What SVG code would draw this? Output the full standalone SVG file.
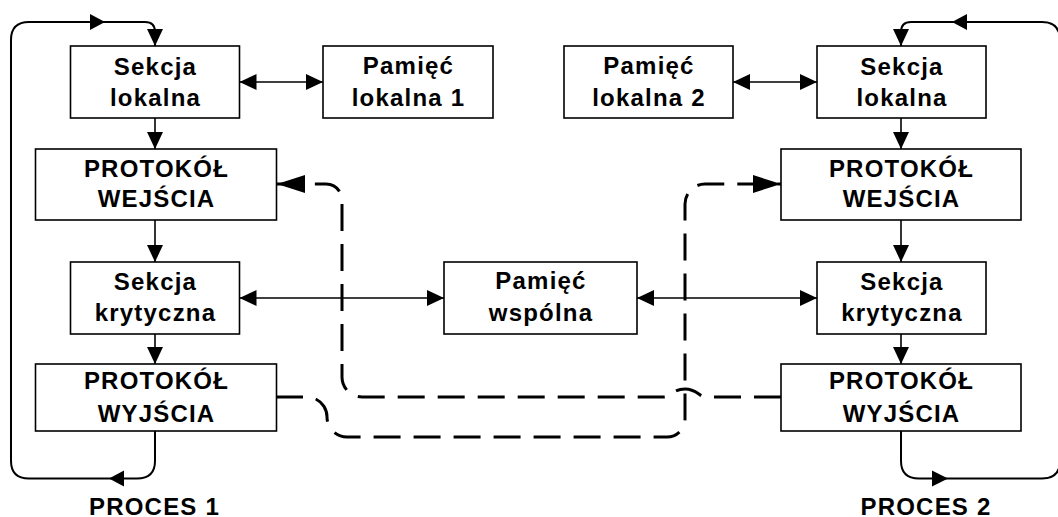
<svg xmlns="http://www.w3.org/2000/svg" width="1058" height="517" viewBox="0 0 1058 517">
<style>
.box{fill:#fff;stroke:#000;stroke-width:1.6}
.t{font-family:"Liberation Sans",Arial,sans-serif;font-weight:bold;font-size:24px;letter-spacing:1.2px;text-anchor:middle;fill:#000}
.c{fill:none;stroke:#000;stroke-width:1.6}
.loop{fill:none;stroke:#000;stroke-width:2}
.d{fill:none;stroke:#000;stroke-width:3;stroke-dasharray:27 13}
.ah{fill:#000;stroke:none}
</style>
<defs>
<marker id="a" viewBox="0 0 17 16" refX="17" refY="8" markerWidth="17" markerHeight="16" markerUnits="userSpaceOnUse" orient="auto-start-reverse">
<path d="M0,0 L17,8 L0,16 z" fill="#000"/>
</marker>
<marker id="ad" viewBox="0 0 28 18" refX="28" refY="9" markerWidth="28" markerHeight="18" markerUnits="userSpaceOnUse" orient="auto">
<path d="M0,0 L28,9 L0,18 z" fill="#000"/>
</marker>
</defs>
<rect width="1058" height="517" fill="#fff"/>
<g id="connectors">
<path class="c" d="M155,118 V149" marker-end="url(#a)"/>
<path class="c" d="M155,220 V262" marker-end="url(#a)"/>
<path class="c" d="M155,334 V364" marker-end="url(#a)"/>
<path class="c" d="M901,118 V149" marker-end="url(#a)"/>
<path class="c" d="M901,220 V262" marker-end="url(#a)"/>
<path class="c" d="M901,334 V364" marker-end="url(#a)"/>
<path class="c" d="M239.5,82 H323" marker-start="url(#a)" marker-end="url(#a)"/>
<path class="c" d="M733,82 H817" marker-start="url(#a)" marker-end="url(#a)"/>
<path class="c" d="M239.5,298 H444" marker-start="url(#a)" marker-end="url(#a)"/>
<path class="c" d="M637,298 H817" marker-start="url(#a)" marker-end="url(#a)"/>
<path class="loop" d="M155,431 V461 Q155,478.5 137,478.5 H29 Q11,478.5 11,461 V40 Q11,22 29,22 H145 Q155,22 155,32 V46" marker-end="url(#a)"/>
<polygon class="ah" points="105,22 90,14 90,30"/>
<polygon class="ah" points="109,478.5 124,470.5 124,486.5"/>
<path class="loop" d="M901,431 V461 Q901,478.5 919,478.5 H1042 Q1060,478.5 1060,461 V40 Q1060,22 1042,22 H911 Q901,22 901,32 V46" marker-end="url(#a)"/>
<polygon class="ah" points="948,478.5 932,470.5 932,486.5"/>
<polygon class="ah" points="952,22 967,14 967,30"/>
<path class="d" d="M276,397 H307 A20,20 0 0 1 327,417 A20,20 0 0 0 347,437 H667 A18,18 0 0 0 685,419 V204 A20,20 0 0 1 705,184 H781" marker-end="url(#ad)"/>
<path class="d" d="M781,397 H706 C699,397 697,389 685,389 C673,389 671,397 664,397 H362 A20,20 0 0 1 342,377 V200 A16,16 0 0 0 326,184 H277" marker-end="url(#ad)"/>
</g>
<g id="sekcja-lokalna-1"><rect class="box" x="70.5" y="46" width="169" height="72"/><text class="t" x="155.5" y="74.5">Sekcja</text><text class="t" x="155.5" y="106">lokalna</text></g>
<g id="pamiec-lokalna-1"><rect class="box" x="323" y="46" width="170" height="72"/><text class="t" x="408.5" y="74">Pamięć</text><text class="t" x="408.5" y="106">lokalna 1</text></g>
<g id="pamiec-lokalna-2"><rect class="box" x="564" y="46" width="169" height="72"/><text class="t" x="649" y="74">Pamięć</text><text class="t" x="649" y="106">lokalna 2</text></g>
<g id="sekcja-lokalna-2"><rect class="box" x="817" y="46" width="169" height="72"/><text class="t" x="902" y="74.5">Sekcja</text><text class="t" x="902" y="106">lokalna</text></g>
<g id="protokol-wejscia-1"><rect class="box" x="35.5" y="149" width="241" height="71"/><text class="t" x="156.5" y="176.5">PROTOKÓŁ</text><text class="t" x="156.5" y="207">WEJŚCIA</text></g>
<g id="protokol-wejscia-2"><rect class="box" x="781" y="149" width="240" height="71"/><text class="t" x="901.5" y="176.5">PROTOKÓŁ</text><text class="t" x="901.5" y="207">WEJŚCIA</text></g>
<g id="sekcja-krytyczna-1"><rect class="box" x="70.5" y="262" width="169" height="72"/><text class="t" x="155.5" y="290">Sekcja</text><text class="t" x="155.5" y="321">krytyczna</text></g>
<g id="pamiec-wspolna"><rect class="box" x="444" y="262" width="193" height="72"/><text class="t" x="541" y="289">Pamięć</text><text class="t" x="541" y="321">wspólna</text></g>
<g id="sekcja-krytyczna-2"><rect class="box" x="817" y="262" width="169" height="72"/><text class="t" x="902" y="290">Sekcja</text><text class="t" x="902" y="321">krytyczna</text></g>
<g id="protokol-wyjscia-1"><rect class="box" x="35.5" y="364" width="241" height="67"/><text class="t" x="156.5" y="389">PROTOKÓŁ</text><text class="t" x="156.5" y="421.5">WYJŚCIA</text></g>
<g id="protokol-wyjscia-2"><rect class="box" x="781" y="364" width="240" height="67"/><text class="t" x="901.5" y="389">PROTOKÓŁ</text><text class="t" x="901.5" y="421.5">WYJŚCIA</text></g>
<g id="proces-1"><text class="t" x="154.5" y="515">PROCES 1</text></g>
<g id="proces-2"><text class="t" x="926" y="515">PROCES 2</text></g>
</svg>
